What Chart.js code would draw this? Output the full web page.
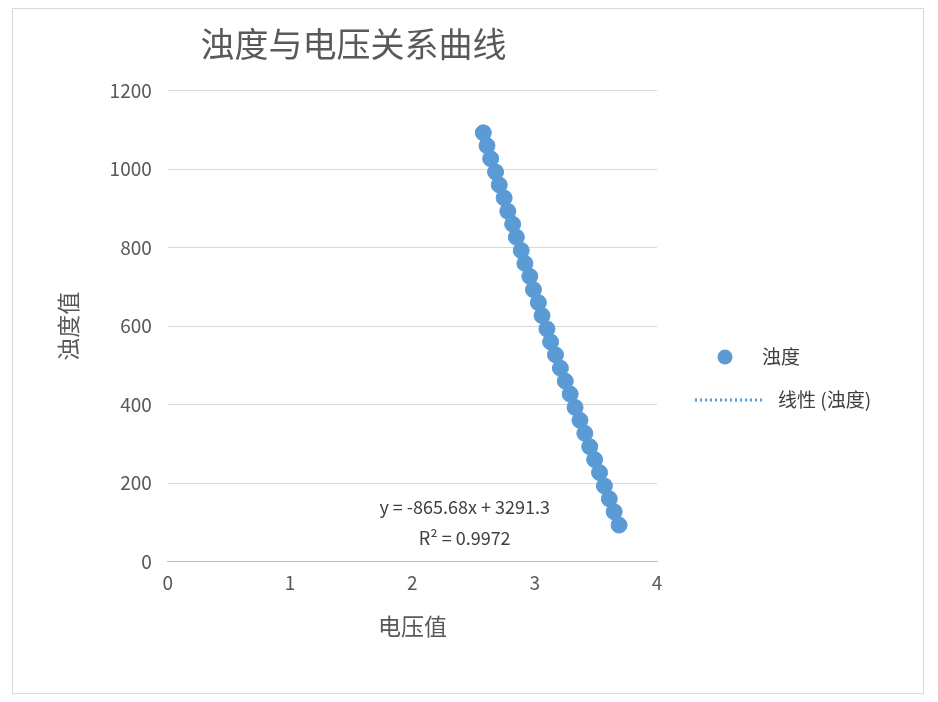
<!DOCTYPE html>
<html><head><meta charset="utf-8">
<script src="https://cdn.jsdelivr.net/npm/chart.js@4"></script>
<style>
body{margin:0;background:#fff;}
#box{position:absolute;left:12px;top:8px;width:912px;height:686px;border:1px solid #d9d9d9;box-sizing:border-box;}
canvas{position:absolute;left:0;top:0;}
</style></head><body>
<div id="box"></div>
<canvas id="c" width="938" height="702"></canvas>
<script>
const voltage = [2.58,2.61,2.64,2.68,2.71,2.75,2.78,2.82,2.85,2.89,2.92,2.96,2.99,3.03,3.06,3.10,3.13,3.17,3.21,3.25,3.29,3.33,3.37,3.41,3.45,3.49,3.53,3.57,3.61,3.65,3.69];
const turbidity = [1093,1060,1027,993,960,927,893,860,827,793,760,727,693,660,627,593,560,527,493,460,427,393,360,327,293,260,227,193,160,127,93];
const slope = -865.68, intercept = 3291.3;
const xTicks = [0,1,2,3,4];
const yTicks = [0,200,400,600,800,1000,1200];
const font = '"Noto Sans CJK SC", "Open Sans", sans-serif';
const pts = voltage.map((x,i)=>({x, y:turbidity[i]}));
const xmin = Math.min(...voltage), xmax = Math.max(...voltage);
const trend = [{x:xmin,y:slope*xmin+intercept},{x:xmax,y:slope*xmax+intercept}];
const color = '#5b9bd5';
const extraPlugin = {id:'extra', afterDraw(ch){
  const c=ch.ctx, xs=ch.scales.x, ys=ch.scales.y;
  c.save(); c.fillStyle='#404040'; c.font='18px '+font; c.textAlign='center'; c.textBaseline='middle';
  const cx = xs.getPixelForValue(3.0)-70;
  c.fillText('y = -865.68x + 3291.3', cx, ys.getPixelForValue(140));
  c.fillText('R² = 0.9972', cx, ys.getPixelForValue(60));
  // legend
  c.textAlign='left'; c.font='19px '+font;
  c.fillStyle=color; c.beginPath(); c.arc(725,357,7.5,0,Math.PI*2); c.fill();
  c.fillStyle='#404040'; c.fillText(ch.data.datasets[0].label, 762, 357);
  c.strokeStyle=color; c.lineWidth=3; c.setLineDash([2,3]); c.beginPath(); c.moveTo(695,400); c.lineTo(762,400); c.stroke();
  c.setLineDash([]); c.fillText(ch.data.datasets[1].label, 778, 400);
  c.restore();
}};
new Chart(document.getElementById('c'), {
  type:'scatter',
  data:{datasets:[
    {label:'浊度', data:pts, backgroundColor:color, borderColor:color, pointRadius:8, pointHoverRadius:8},
    {label:'线性 (浊度)', data:trend, type:'line', showLine:true, borderColor:color, borderWidth:2.5, borderDash:[2,3], pointRadius:0, fill:false}
  ]},
  options:{
    responsive:false, animation:false,
    layout:{padding:{left:50,right:281,top:24,bottom:58}},
    plugins:{
      title:{display:true, text:'浊度与电压关系曲线', color:'#595959', font:{family:font,size:34,weight:'normal'}, padding:{top:0,bottom:26}},
      legend:{display:false},
      tooltip:{enabled:false}
    },
    scales:{
      x:{type:'linear', min:0, max:4, afterBuildTicks(s){s.ticks=xTicks.map(v=>({value:v}));},
        grid:{display:false, drawTicks:false}, border:{color:'#bfbfbf'},
        ticks:{color:'#595959', font:{family:font,size:19}, padding:10, callback:v=>String(v)},
        title:{display:true, text:'电压值', color:'#595959', font:{family:font,size:23}, padding:{top:8}}},
      y:{type:'linear', min:0, max:1200, afterBuildTicks(s){s.ticks=yTicks.map(v=>({value:v}));},
        grid:{color:'#d9d9d9', drawTicks:false}, border:{display:false},
        ticks:{color:'#595959', font:{family:font,size:19}, padding:16, callback:v=>String(v)},
        title:{display:true, text:'浊度值', color:'#595959', font:{family:font,size:23}, padding:{bottom:12}}}
    }
  },
  plugins:[extraPlugin]
});
</script></body></html>
